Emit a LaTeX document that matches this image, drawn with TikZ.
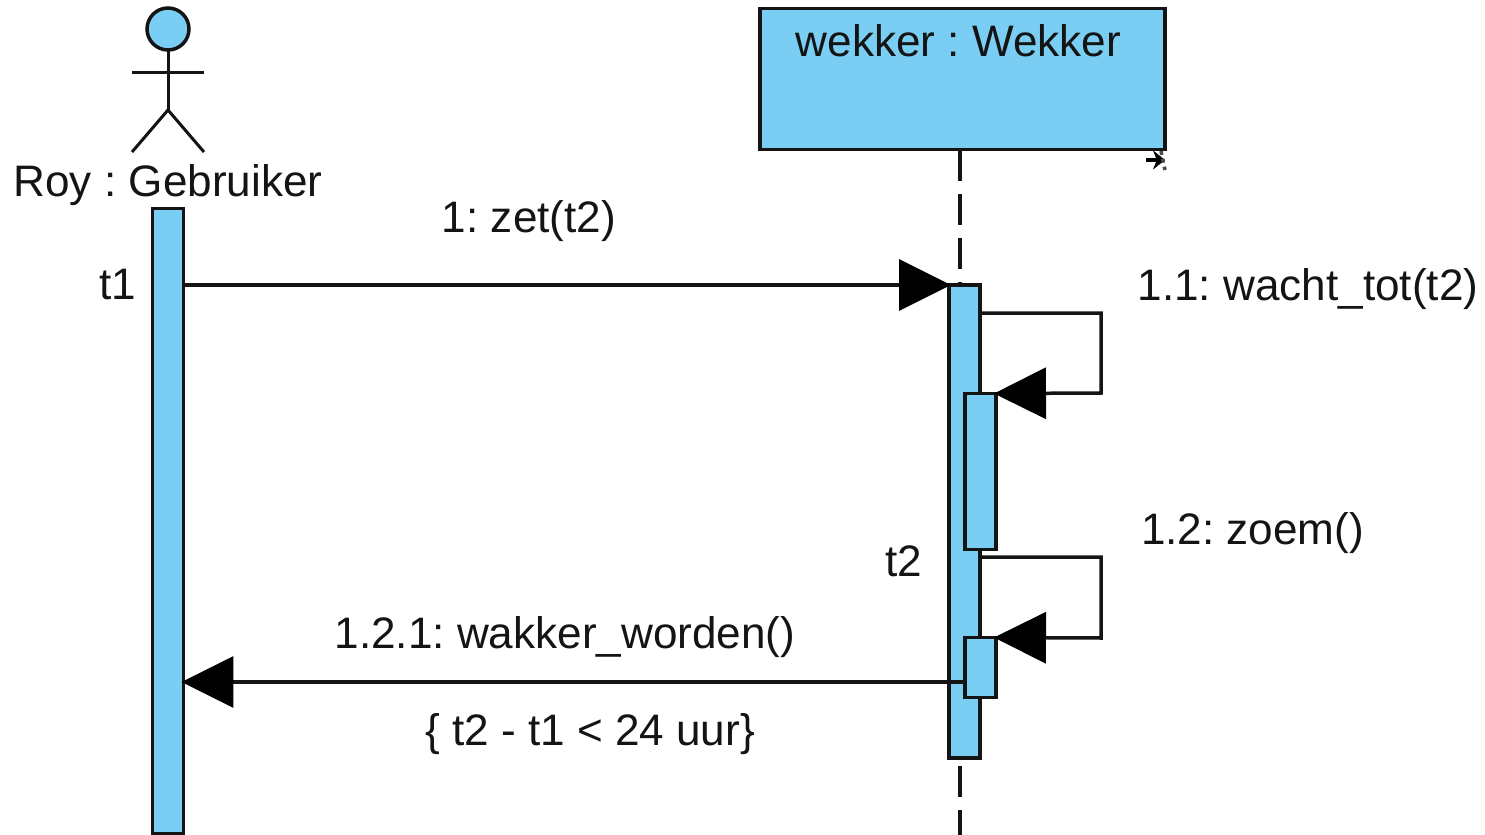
\documentclass[tikz,border=0pt]{standalone}
\usepackage{fontspec}
\setmainfont{Liberation Sans}
\usepackage{tikz}
\usetikzlibrary{arrows.meta}
\definecolor{umlblue}{HTML}{7ACEF4}
\definecolor{umlline}{HTML}{141414}
\tikzset{
	umlbox/.style={draw=umlline, fill=umlblue, line width=0.07cm, inner sep=0pt, outer sep=0pt},
	bar/.style={umlbox, minimum width=0.62cm},
	msg/.style={draw=umlline, line width=0.07cm, shorten >=-0.04cm, -{Triangle[length=1.04cm,width=1.02cm,black]}},
	lifeline/.style={draw=umlline, line width=0.07cm, dash pattern=on 0.62cm off 0.26cm},
	limb/.style={draw=umlline, line width=0.06cm},
	lbl/.style={font=\fontsize{25.1}{28}\selectfont\frenchspacing, text=umlline, inner sep=0pt}
}

\begin{document}
\begin{tikzpicture}[x=0.02cm, y=-0.02cm]
	\useasboundingbox (0, 0) rectangle (1485, 835);
	% wekker
	\node [umlbox, minimum width=8.1cm, minimum height=2.82cm] (wekker) at (962.5, 79) {};
	\node [lbl] (wekkerlbl) at (958.5, 41) {wekker : Wekker};
	\coordinate (lifeend) at (960, 835);
	\coordinate (lifetop) at (960, 150);
	\coordinate (lifebot) at (960, 766);
	\draw [lifeline] (lifetop) -- (960, 285);
	\draw [lifeline] (lifebot) -- (lifeend);
	% actor
	\node [umlbox, circle, minimum size=0.84cm] (head) at (168, 29) {};
	\coordinate (hip) at (168, 110);
	\coordinate (armL) at (132, 72);
	\coordinate (armR) at (204, 72);
	\coordinate (legL) at (132, 152);
	\coordinate (legR) at (204, 152);
	\draw [limb] (head) -- (hip);
	\draw [limb] (armL) -- (armR);
	\draw [limb] (legL) -- (hip) -- (legR);
	\node [lbl] (roy) at (168, 185) {Roy : Gebruiker};
	% bars
	\node [bar, minimum height=12.5cm] (barRoy) at (168, 521) {};
	\node [bar, minimum height=9.46cm] (barW) at (964.5, 521.5) {};
	\node [bar, minimum height=3.12cm] (barWa) at (980.5, 471.5) {};
	\node [bar, minimum height=1.2cm] (barWb) at (980.5, 667.5) {};
	% messages
	\coordinate (m1s) at (barRoy.east |- 0, 285);
	\coordinate (m1e) at (barW.west |- 0, 285);
	\draw [msg] (m1s) -- (m1e);
	\coordinate (m2a) at (barW.east |- 0, 313);
	\coordinate (m2b) at (1101, 313);
	\coordinate (m2c) at (1101, 393);
	\draw [msg] (m2a) -- (m2b) -- (m2c) -- (barWa.north east);
	\coordinate (m3a) at (barW.east |- 0, 557);
	\coordinate (m3b) at (1101, 557);
	\coordinate (m3c) at (1101, 638);
	\draw [msg] (m3a) -- (m3b) -- (m3c) -- (barWb.north east);
	\coordinate (m4s) at (barWb.west |- 0, 682);
	\coordinate (m4e) at (barRoy.east |- 0, 682);
	\draw [msg] (m4s) -- (m4e);
	% labels
	\node [lbl] (t1) at (117.5, 285) {t1};
	\node [lbl] (t2) at (903.5, 561) {t2};
	\node [lbl] (zet) at (529, 221) {1: zet(t2)};
	\node [lbl] (wacht) at (1308, 289) {1.1: wacht\_tot(t2)};
	\node [lbl] (zoem) at (1252.5, 533) {1.2: zoem()};
	\node [lbl] (wakker) at (565, 637) {1.2.1: wakker\_worden()};
	\node [lbl] (cons) at (590, 734) {\{ t2 - t1 < 24 uur\}};
	% resize cursor
	\coordinate (curs) at (1146, 160);
	\coordinate (cure) at (1165, 160);
	\draw [draw=black, line width=0.08cm, -{Stealth[length=0.24cm,width=0.38cm]}] (curs) -- (cure);
	\coordinate (dota) at (1161, 151);
	\coordinate (dotb) at (1165, 170);
	\draw [draw=black!70, line width=0.07cm, dash pattern=on 0.08cm off 0.08cm] (dota) -- (dotb);
\end{tikzpicture}
\end{document}
